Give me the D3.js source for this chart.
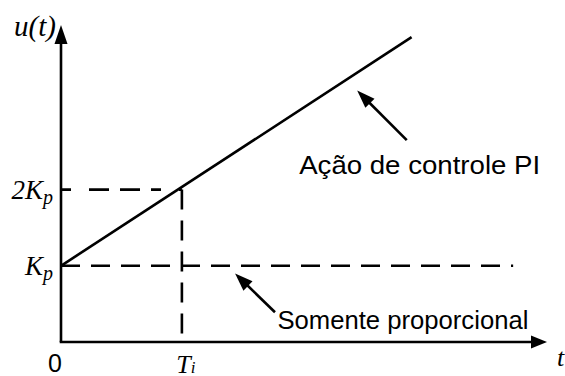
<!DOCTYPE html>
<html><head><meta charset="utf-8">
<script src="https://cdn.jsdelivr.net/npm/d3@7"></script>
<style>html,body{margin:0;padding:0;background:#fff}svg{display:block}</style>
</head><body>
<script>
// Schematic data (units: t in multiples of Ti, u in multiples of Kp)
const axisMax = {t: 4.02, u: 4.16};
const piLine = [{t: 0, u: 1}, {t: 2.9, u: 4.0}];        // Ação de controle PI
const pOnly = [{t: 0, u: 1}, {t: 3.74, u: 1}];          // Somente proporcional
const refH = [{t: 0, u: 2}, {t: 1, u: 2}];               // 2Kp guide
const refV = [{t: 1, u: 2}, {t: 1, u: 0}];               // Ti guide
const yTicks = [{u: 1, label: "K", sub: "p"}, {u: 2, label: "2K", sub: "p"}];
const xTicks = [{t: 1, label: "T", sub: "i"}];
const annotations = [
  {text: "Ação de controle PI", from: {t: 2.86, u: 2.65}, to: {t: 2.45, u: 3.3}, label: {t: 1.97, u: 2.3}, len: 241},
  {text: "Somente proporcional", from: {t: 1.77, u: 0.39}, to: {t: 1.44, u: 0.9}, label: {t: 1.79, u: 0.26}, len: 251}
];

const W = 565, H = 376;
const x = d3.scaleLinear().domain([0, axisMax.t]).range([61, 547]);
const y = d3.scaleLinear().domain([0, axisMax.u]).range([342, 25]);

const svg = d3.select("body").append("svg").attr("width", W).attr("height", H);

const line = d3.line().x(d => x(d.t)).y(d => y(d.u));

function arrowHead(tipX, tipY, fromX, fromY, len, halfW) {
  const dx = tipX - fromX, dy = tipY - fromY, L = Math.hypot(dx, dy);
  const ux = dx / L, uy = dy / L;
  const bx = tipX - ux * len, by = tipY - uy * len;
  return `M${tipX},${tipY}L${bx - uy * halfW},${by + ux * halfW}L${bx + uy * halfW},${by - ux * halfW}Z`;
}

// dashed guides
svg.append("path").attr("d", line(pOnly)).attr("fill", "none").attr("stroke", "#000")
  .attr("stroke-width", 2.6).attr("stroke-dasharray", "19,11");
svg.append("path").attr("d", line(refH)).attr("fill", "none").attr("stroke", "#000")
  .attr("stroke-width", 2.6).attr("stroke-dasharray", "10,18,20,11,20,11");
svg.append("path").attr("d", line(refV)).attr("fill", "none").attr("stroke", "#000")
  .attr("stroke-width", 2.6).attr("stroke-dasharray", "20,11");

// PI line
svg.append("path").attr("d", line(piLine)).attr("fill", "none").attr("stroke", "#000").attr("stroke-width", 2.6);

// axes
svg.append("line").attr("x1", x(0)).attr("y1", y(0)).attr("x2", x(0)).attr("y2", y(axisMax.u) + 14)
  .attr("stroke", "#000").attr("stroke-width", 2.6);
svg.append("path").attr("d", arrowHead(x(0), y(axisMax.u), x(0), y(0), 19, 6.5)).attr("fill", "#000");
svg.append("line").attr("x1", x(0) - 1.3).attr("y1", y(0)).attr("x2", x(axisMax.t) - 12).attr("y2", y(0))
  .attr("stroke", "#000").attr("stroke-width", 2.6);
svg.append("path").attr("d", arrowHead(x(axisMax.t), y(0), x(0), y(0), 16, 6.5)).attr("fill", "#000");

// annotation arrows
annotations.forEach(a => {
  const fx = x(a.from.t), fy = y(a.from.u), tx = x(a.to.t), ty = y(a.to.u);
  const dx = tx - fx, dy = ty - fy, L = Math.hypot(dx, dy);
  svg.append("line").attr("x1", fx).attr("y1", fy).attr("x2", tx - dx / L * 12).attr("y2", ty - dy / L * 12)
    .attr("stroke", "#000").attr("stroke-width", 2.6);
  svg.append("path").attr("d", arrowHead(tx, ty, fx, fy, 18, 6.5)).attr("fill", "#000");
  svg.append("text").attr("x", x(a.label.t)).attr("y", y(a.label.u))
    .attr("font-family", "Liberation Sans, Arial, sans-serif").attr("font-size", 26)
    .attr("dominant-baseline", "middle")
    .attr("textLength", a.len).attr("lengthAdjust", "spacingAndGlyphs").text(a.text);
});

const serif = "Liberation Serif, Times New Roman, serif";
// y tick labels
yTicks.forEach(tk => {
  const t = svg.append("text").attr("x", x(0) - 8).attr("y", y(tk.u) + 9)
    .attr("font-family", serif).attr("font-style", "italic").attr("font-size", 27).attr("text-anchor", "end");
  t.append("tspan").text(tk.label);
  t.append("tspan").attr("font-size", 20).attr("dy", 5).text(tk.sub);
});
// x tick labels
xTicks.forEach(tk => {
  const t = svg.append("text").attr("x", x(tk.t) + 4).attr("y", 373)
    .attr("font-family", serif).attr("font-style", "italic").attr("font-size", 26).attr("text-anchor", "middle");
  t.append("tspan").text(tk.label);
  t.append("tspan").attr("font-size", 17).attr("dy", 0).text(tk.sub);
});
// origin
svg.append("text").attr("x", 55).attr("y", 372).attr("font-family", "Liberation Sans, Arial, sans-serif")
  .attr("font-size", 25).attr("text-anchor", "middle").text("0");
// axis titles
svg.append("text").attr("x", 14).attr("y", 36).attr("font-family", serif).attr("font-style", "italic")
  .attr("font-size", 29).text("u(t)");
svg.append("text").attr("x", 557).attr("y", 366).attr("font-family", serif).attr("font-style", "italic")
  .attr("font-size", 26).text("t");
</script>
</body></html>
